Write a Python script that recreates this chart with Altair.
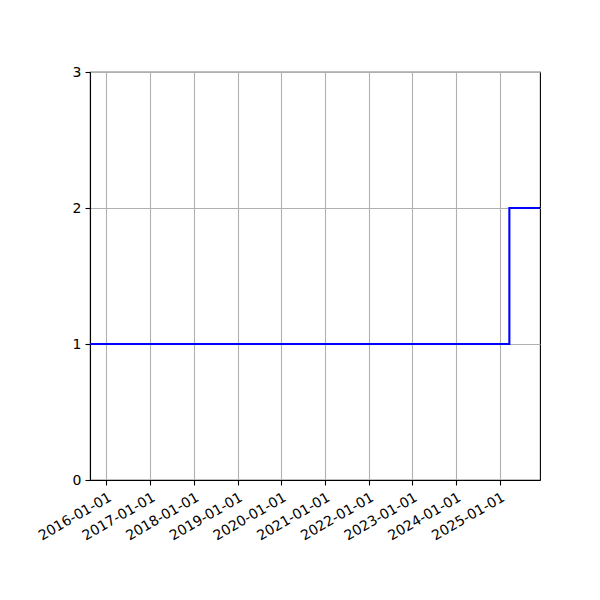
import altair as alt
import pandas as pd

dates = ["2015-08-17", "2025-03-22", "2025-12-03"]
values = [1, 2, 2]
tick_years = list(range(2016, 2026))
y_ticks = [0, 1, 2, 3]

df = pd.DataFrame({"date": dates, "value": values})

x_ticks = [alt.DateTime(year=y, month=1, date=1, utc=True) for y in tick_years]

chart = alt.Chart(df).mark_line(
    interpolate="step-after", color="#0000ff", strokeWidth=2.1
).encode(
    x=alt.X(
        "date:T",
        scale=alt.Scale(type="utc", domain=[dates[0], dates[-1]], nice=False),
        axis=alt.Axis(
            values=x_ticks,
            labelExpr="utcFormat(datum.value, '%Y-%m-%d')",
            labelAngle=330,
            labelAlign="right",
            labelBaseline="top",
            labelPadding=5,
            title=None,
            grid=True,
        ),
    ),
    y=alt.Y(
        "value:Q",
        scale=alt.Scale(domain=[0, 3], nice=False),
        axis=alt.Axis(values=y_ticks, format="d", title=None, grid=True, labelPadding=4),
    ),
).properties(
    width=450,
    height=408,
    autosize=alt.AutoSizeParams(type="none"),
    padding={"left": 82, "top": 64, "right": 52, "bottom": 112},
).configure_axis(
    domainColor="black",
    domainWidth=1.1,
    tickColor="black",
    tickWidth=1.1,
    tickSize=5,
    labelColor="black",
    labelFont="DejaVu Sans",
    labelFontSize=14,
    gridColor="#b0b0b0",
    gridWidth=1.1,
    labelOverlap=False,
    labelFlush=False,
).configure_view(
    stroke="black", strokeWidth=1.1
)

chart.save("out.html", embed_options={"renderer": "svg", "actions": False})
